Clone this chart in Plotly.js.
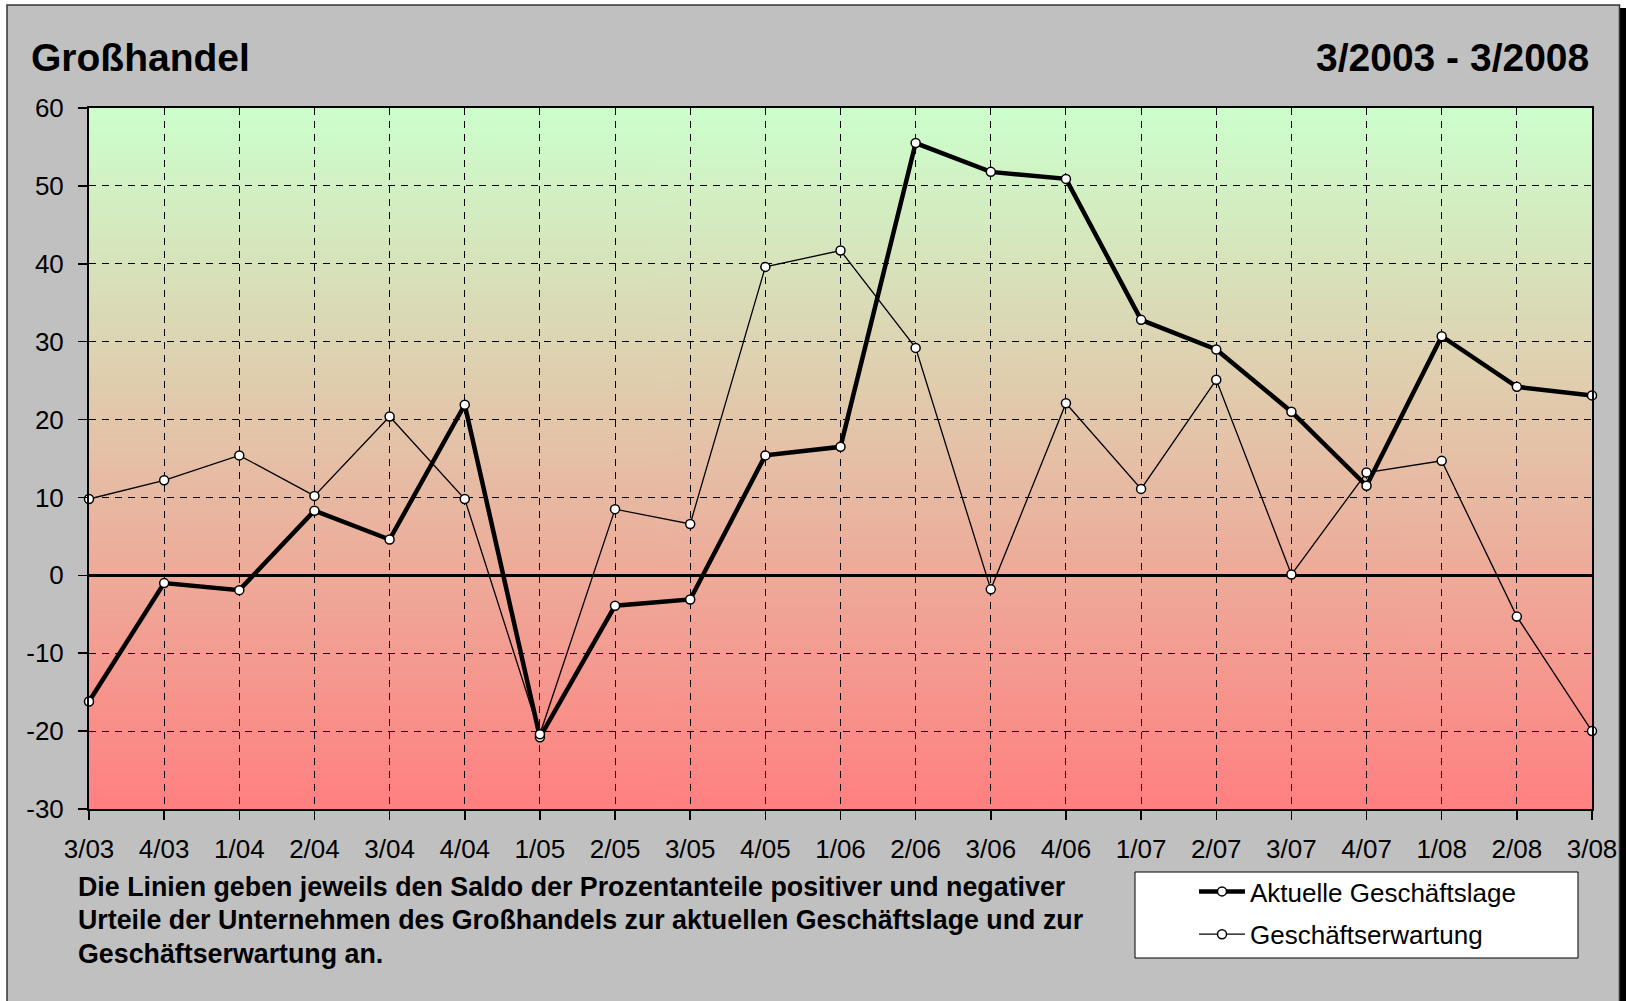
<!DOCTYPE html>
<html>
<head>
<meta charset="utf-8">
<script src="https://cdn.plot.ly/plotly-3.0.1.min.js"></script>
<style>
html,body{margin:0;padding:0;background:#ffffff;}
#chart{width:1626px;height:1001px;}
</style>
</head>
<body>
<div id="chart"></div>
<script>
// ---- data ----
const categories = ["3/03","4/03","1/04","2/04","3/04","4/04","1/05","2/05","3/05","4/05","1/06","2/06","3/06","4/06","1/07","2/07","3/07","4/07","1/08","2/08","3/08"];
const aktuelleLage = [-16.2,-1.0,-1.9,8.3,4.6,21.9,-20.8,-3.9,-3.1,15.4,16.5,55.5,51.8,50.9,32.8,29.0,21.0,11.5,30.7,24.2,23.1];
const erwartung   = [9.8,12.2,15.4,10.2,20.4,9.8,-20.4,8.5,6.6,39.6,41.7,29.2,-1.8,22.1,11.1,25.1,0.1,13.2,14.7,-5.3,-20.0];
const seriesNames = ["Aktuelle Geschäftslage","Geschäftserwartung"];
const yTickValues = [-30,-20,-10,0,10,20,30,40,50,60];
const yTickLabels = ["-30","-20","-10","0","10","20","30","40","50","60"];
const titleLeft = "Großhandel";
const titleRight = "3/2003 - 3/2008";
const noteLines = [
  "Die Linien geben jeweils den Saldo der Prozentanteile positiver und negativer",
  "Urteile der Unternehmen des Großhandels zur aktuellen Geschäftslage und zur",
  "Geschäftserwartung an."
];

// ---- geometry helpers (pixel -> paper) ----
const W = 1626, H = 1001;
const L = 89, R = 1592, T = 108, B = 809;
const PW = R - L, PH = B - T;
const px = x => (x - L) / PW;
const py = y => (B - y) / PH;

// gradient background image for plot area
const cv = document.createElement('canvas');
cv.width = 4; cv.height = 700;
const ctx = cv.getContext('2d');
const g = ctx.createLinearGradient(0, 0, 0, 700);
g.addColorStop(0, '#CCFFCC');
g.addColorStop(1, '#FF8080');
ctx.fillStyle = g;
ctx.fillRect(0, 0, 4, 700);
const bgURL = cv.toDataURL('image/png');

const FONT = '"Liberation Sans", Arial, Helvetica, sans-serif';

const traces = [
  {
    x: categories, y: aktuelleLage, name: seriesNames[0],
    type: 'scatter', mode: 'lines+markers',
    line: {color: '#000000', width: 4.5},
    marker: {symbol: 'circle', size: 9, color: '#ffffff', line: {color: '#000000', width: 1.5}},
    legendgroup: 'a', cliponaxis: false
  },
  {
    x: categories, y: erwartung, name: seriesNames[1],
    type: 'scatter', mode: 'lines+markers',
    line: {color: '#000000', width: 1.3},
    marker: {symbol: 'circle', size: 9, color: '#ffffff', line: {color: '#000000', width: 1.5}},
    legendgroup: 'b', cliponaxis: false
  }
];

const annotations = [
  {text: '<b>' + titleLeft + '</b>', xref: 'paper', yref: 'paper', x: px(29), y: py(58),
   xanchor: 'left', yanchor: 'middle', showarrow: false, font: {family: FONT, size: 39, color: '#000'}},
  {text: '<b>' + titleRight + '</b>', xref: 'paper', yref: 'paper', x: px(1591), y: py(58),
   xanchor: 'right', yanchor: 'middle', showarrow: false, font: {family: FONT, size: 39, color: '#000'}}
];
const noteY = [887, 920, 954];
noteLines.forEach((t, i) => {
  annotations.push({text: '<b>' + t + '</b>', xref: 'paper', yref: 'paper', x: px(76), y: py(noteY[i]),
    xanchor: 'left', yanchor: 'middle', showarrow: false, align: 'left',
    font: {family: FONT, size: 26.8, color: '#000'}});
});

const shapes = [
  // white outer margins
  {type: 'rect', xref: 'paper', yref: 'paper', x0: px(-2), x1: px(7), y0: py(-2), y1: py(H + 5),
   fillcolor: '#ffffff', line: {width: 0}, layer: 'above'},
  {type: 'rect', xref: 'paper', yref: 'paper', x0: px(-2), x1: px(W + 2), y0: py(-2), y1: py(5),
   fillcolor: '#ffffff', line: {width: 0}, layer: 'above'},
  {type: 'rect', xref: 'paper', yref: 'paper', x0: px(1619), x1: px(W + 2), y0: py(-2), y1: py(8),
   fillcolor: '#ffffff', line: {width: 0}, layer: 'above'},
  // shadow
  {type: 'rect', xref: 'paper', yref: 'paper', x0: px(1620), x1: px(W + 2), y0: py(8), y1: py(H + 5),
   fillcolor: '#000000', line: {width: 0}, layer: 'above'},
  // frame border
  {type: 'rect', xref: 'paper', yref: 'paper', x0: px(7), x1: px(1619.5), y0: py(5), y1: py(H + 10),
   fillcolor: 'rgba(0,0,0,0)', line: {color: '#333333', width: 1.5}, layer: 'above'},
  // legend box
  {type: 'rect', xref: 'paper', yref: 'paper', x0: px(1135), x1: px(1578), y0: py(872), y1: py(958),
   fillcolor: '#ffffff', line: {color: '#000000', width: 1}, layer: 'below'}
];

const layout = {
  width: W, height: H,
  margin: {l: L, r: W - R, t: T, b: H - B, pad: 0},
  paper_bgcolor: '#C0C0C0',
  plot_bgcolor: 'rgba(0,0,0,0)',
  font: {family: FONT, size: 26, color: '#000'},
  showlegend: true,
  legend: {
    x: px(1194), y: py(868), xanchor: 'left', yanchor: 'top',
    bgcolor: 'rgba(0,0,0,0)', borderwidth: 0,
    font: {family: FONT, size: 26, color: '#000'},
    traceorder: 'grouped', tracegroupgap: 6, itemwidth: 46
  },
  xaxis: {
    type: 'category', range: [0, categories.length - 1],
    showgrid: true, gridcolor: '#000000', gridwidth: 1, griddash: '7px,6px',
    showline: true, linecolor: '#000000', linewidth: 2, mirror: true,
    ticks: 'outside', ticklen: 9, tickwidth: 1.5, tickcolor: '#000',
    tickfont: {family: FONT, size: 26, color: '#000'},
    ticklabelstandoff: 7,
    zeroline: false, fixedrange: true
  },
  yaxis: {
    range: [-30, 60], tickmode: 'array', tickvals: yTickValues, ticktext: yTickLabels,
    showgrid: true, gridcolor: '#000000', gridwidth: 1, griddash: '7px,6px',
    showline: true, linecolor: '#000000', linewidth: 2, mirror: true,
    ticks: 'outside', ticklen: 9, tickwidth: 1.5, tickcolor: '#000',
    tickfont: {family: FONT, size: 26, color: '#000'},
    ticklabelstandoff: 9,
    zeroline: true, zerolinecolor: '#000000', zerolinewidth: 2.5, fixedrange: true
  },
  images: [{
    source: bgURL, xref: 'paper', yref: 'paper', x: 0, y: 1, sizex: 1, sizey: 1,
    xanchor: 'left', yanchor: 'top', sizing: 'stretch', layer: 'below'
  }],
  shapes: shapes,
  annotations: annotations
};

Plotly.newPlot('chart', traces, layout, {displayModeBar: false, staticPlot: true});
</script>
</body>
</html>
